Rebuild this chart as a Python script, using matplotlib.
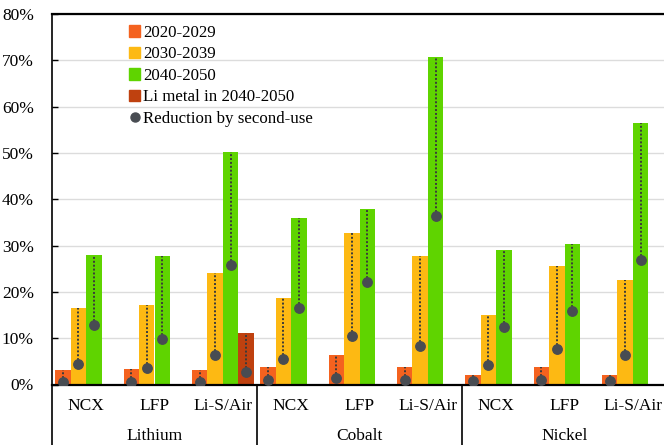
import numpy as np
import matplotlib
matplotlib.use("Agg")
import matplotlib.pyplot as plt
from matplotlib.patches import Patch
from matplotlib.lines import Line2D
import matplotlib.transforms as mtransforms

plt.rcParams['font.family'] = ['Liberation Serif', 'DejaVu Serif']

metals = ["Lithium", "Cobalt", "Nickel"]
chemistries = ["NCX", "LFP", "Li-S/Air"]

# demand share per decade, % (Lithium NCX/LFP/Li-S/Air, Cobalt ..., Nickel ...)
share_2020 = [3.2, 3.3, 3.2, 3.7, 6.4, 3.7, 2.0, 3.7, 2.0]
share_2030 = [16.6, 17.2, 24.0, 18.6, 32.7, 27.8, 15.1, 25.6, 22.6]
share_2040 = [28.0, 27.7, 50.3, 36.0, 37.8, 70.8, 29.0, 30.3, 56.4]
li_metal_2040 = 11.2  # only for Lithium / Li-S/Air

# remaining share after second-use
second_2020 = [0.6, 0.6, 0.6, 1.0, 1.5, 1.0, 0.8, 1.0, 0.8]
second_2030 = [4.4, 3.6, 6.4, 5.6, 10.5, 8.3, 4.2, 7.6, 6.4]
second_2040 = [12.9, 9.8, 25.7, 16.5, 22.1, 36.3, 12.4, 15.9, 26.9]
second_li_metal = 2.7

c2020 = "#f4621f"
c2030 = "#fdb913"
c2040 = "#5fd400"
cli = "#bf410f"
cdot = "#484c52"

fig = plt.figure(figsize=(6.64, 4.45), dpi=100)
ax = fig.add_axes([52 / 664, 60.5 / 445, 615 / 664, 370.5 / 445])

x = np.arange(len(share_2020))
w = 0.225

series = [(share_2020, second_2020, c2020, -1.5),
          (share_2030, second_2030, c2030, -0.5),
          (share_2040, second_2040, c2040, 0.5)]

for vals, red, col, off in series:
    xs = x + off * w
    ax.bar(xs, vals, width=w, color=col, zorder=2)
    for xi, v, r in zip(xs, vals, red):
        ax.plot([xi, xi], [r, v], color="#3a3a3a", lw=1.4,
                ls=(0, (1, 1)), zorder=3)
    ax.plot(xs, red, 'o', color=cdot, ms=6.8, zorder=4)

# Li metal bar in the lithium Li-S/Air slot
xl = x[2] + 1.5 * w
ax.bar([xl], [li_metal_2040], width=w, color=cli, zorder=2)
ax.plot([xl, xl], [second_li_metal, li_metal_2040], color="#3a3a3a",
        lw=1.4, ls=(0, (1, 1)), zorder=3)
ax.plot([xl], [second_li_metal], 'o', color=cdot, ms=6.8, zorder=4)

ax.set_xlim(-0.5, 8.5)
ax.set_ylim(0, 80)
ax.set_yticks(np.arange(0, 81, 10))
ax.set_yticklabels(["%d%%" % v for v in range(0, 81, 10)], fontsize=12.5)
ax.tick_params(axis='y', direction='in', length=4, width=1, pad=13)
ax.set_xticks([])
ax.grid(axis='y', color="#dcdcdc", lw=1, zorder=0)

for s in ["left", "bottom", "top"]:
    ax.spines[s].set_color("black")
ax.spines["left"].set_linewidth(1.2)
ax.spines["bottom"].set_linewidth(1.6)
ax.spines["top"].set_linewidth(1.6)
ax.spines["right"].set_visible(False)

# two-level category axis
trans = mtransforms.blended_transform_factory(ax.transData, ax.transAxes)
for i, name in enumerate(chemistries * 3):
    ax.text(x[i], -0.058, name, transform=trans, ha='center', va='center',
            fontsize=12.5)
for j, m in enumerate(metals):
    ax.text(3 * j + 1, -0.14, m, transform=trans, ha='center', va='center',
            fontsize=12.5)
for xs in [-0.5, 2.5, 5.5]:
    ax.plot([xs, xs], [0, -0.17], transform=trans, color="black", lw=1.2,
            clip_on=False)

handles = [Patch(color=c2020), Patch(color=c2030), Patch(color=c2040),
           Patch(color=cli),
           Line2D([], [], marker='o', ls='none', color=cdot, ms=6.5)]
labels = ["2020-2029", "2030-2039", "2040-2050", "Li metal in 2040-2050",
          "Reduction by second-use"]
ax.legend(handles, labels, loc='upper left', bbox_to_anchor=(129 / 664, 1 - 25 / 445),
          bbox_transform=fig.transFigure, frameon=False, fontsize=12.2,
          handlelength=0.65, handleheight=0.65, handletextpad=0.2,
          labelspacing=0.32, borderpad=0, borderaxespad=0)

plt.savefig("out.png", dpi=100)
